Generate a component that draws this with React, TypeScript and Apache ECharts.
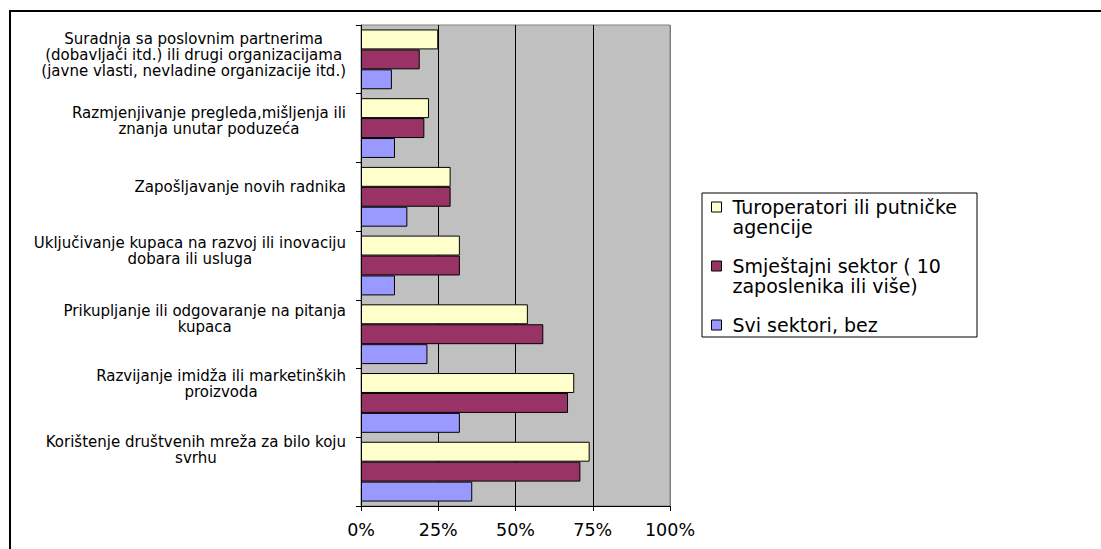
import React, { useEffect, useRef } from "react";
import * as echarts from "echarts";

const categories: string[] = [
  "Suradnja sa poslovnim partnerima\n(dobavljači itd.) ili drugi organizacijama\n(javne vlasti, nevladine organizacije itd.)",
  "Razmjenjivanje pregleda,mišljenja ili\nznanja unutar poduzeća",
  "Zapošljavanje novih radnika",
  "Uključivanje kupaca na razvoj ili inovaciju\ndobara ili usluga",
  "Prikupljanje ili odgovaranje na pitanja\nkupaca",
  "Razvijanje imidža ili marketinških\nproizvoda",
  "Korištenje društvenih mreža za bilo koju\nsvrhu",
];

const seriesNames: string[] = [
  "Turoperatori ili putničke agencije",
  "Smještajni sektor ( 10 zaposlenika ili više)",
  "Svi sektori, bez",
];

const legendLabels: string[] = [
  "Turoperatori ili putničke\nagencije",
  "Smještajni sektor ( 10\nzaposlenika ili više)",
  "Svi sektori, bez",
];

const turoperatori: number[] = [25, 22, 29, 32, 54, 69, 74];
const smjestajni: number[] = [19, 20.5, 29, 32, 59, 67, 71];
const sviSektori: number[] = [10, 11, 15, 11, 21.5, 32, 36];

const valueTicks: number[] = [0, 25, 50, 75, 100];

// styling
const colors = ["#FFFFCC", "#993366", "#9999FF"];
const labelShift = [9, 15, 20, 29, 31, 38, 43];
const FONT = "DejaVu Sans";

export default function App() {
  const ref = useRef<HTMLDivElement>(null);

  useEffect(() => {
    if (!ref.current) return;
    const chart = echarts.init(ref.current, undefined, { renderer: "svg" });

    const rich: Record<string, any> = {
      c: { align: "center", fontFamily: FONT, fontSize: 15, lineHeight: 16, color: "#000" },
    };
    labelShift.forEach((h, i) => {
      rich["s" + i] = { fontSize: 1, lineHeight: h };
    });

    const data = [turoperatori, smjestajni, sviSektori];

    // legend text: icon aligned with first line (pad with empty lines so the block centre is line 1)
    const legendText = (name: string) => {
      const t = legendLabels[seriesNames.indexOf(name)];
      const n = t.split("\n").length;
      return n === 1 ? "\n" + t + "\n" : "\n" + t;
    };

    chart.setOption({
      animation: false,
      backgroundColor: "#fff",
      grid: {
        left: 361,
        right: 431,
        top: 25,
        bottom: 43,
        show: true,
        backgroundColor: "#C0C0C0",
        borderColor: "#808080",
        borderWidth: 1,
      },
      xAxis: {
        type: "value",
        min: valueTicks[0],
        max: valueTicks[valueTicks.length - 1],
        interval: valueTicks[1] - valueTicks[0],
        axisLine: { show: true, lineStyle: { color: "#000", width: 1 } },
        axisTick: { show: true, length: 5, lineStyle: { color: "#000" } },
        axisLabel: {
          formatter: "{value}%",
          fontFamily: FONT,
          fontSize: 17.5,
          color: "#000",
          margin: 15,
        },
        splitLine: {
          show: true,
          lineStyle: { color: ["#000", "#000", "#000", "#000", "#808080"], width: 1 },
        },
      },
      yAxis: {
        type: "category",
        inverse: true,
        data: categories,
        axisLine: { show: true, lineStyle: { color: "#000", width: 1 } },
        axisTick: { show: true, length: 5, lineStyle: { color: "#000" } },
        axisLabel: {
          align: "right",
          margin: 15,
          formatter: (v: string, i: number) =>
            v
              .split("\n")
              .map((l) => `{c|${l}}`)
              .join("\n") + `\n{s${i}| }`,
          rich,
        },
        splitLine: { show: false },
      },
      legend: {
        orient: "vertical",
        left: 711,
        top: 177,
        padding: 0,
        itemGap: -1,
        itemWidth: 10,
        itemHeight: 10,
        icon: "rect",
        selectedMode: false,
        formatter: legendText,
        textStyle: {
          fontFamily: FONT,
          fontSize: 19,
          lineHeight: 20,
          color: "#000",
          padding: [0, 0, 0, 6],
        },
        itemStyle: { borderColor: "#000", borderWidth: 1 },
        data: seriesNames,
      },
      graphic: [
        {
          type: "rect",
          shape: { x: 10, y: 11, width: 1200, height: 600 },
          style: { fill: "none", stroke: "#000", lineWidth: 2 },
          silent: true,
        },
        {
          type: "rect",
          shape: { x: 702, y: 193, width: 275, height: 144 },
          style: { fill: "none", stroke: "#000", lineWidth: 1 },
          silent: true,
        },
      ],
      series: seriesNames.map((n, i) => ({
        name: n,
        type: "bar",
        data: data[i],
        barGap: "0%",
        barCategoryGap: "13%",
        itemStyle: { color: colors[i], borderColor: "#000", borderWidth: 1 },
      })),
    });

    return () => chart.dispose();
  }, []);

  return (
    <div
      ref={ref}
      style={{ position: "fixed", left: 0, top: 0, width: 1101, height: 549, background: "#fff" }}
    />
  );
}
